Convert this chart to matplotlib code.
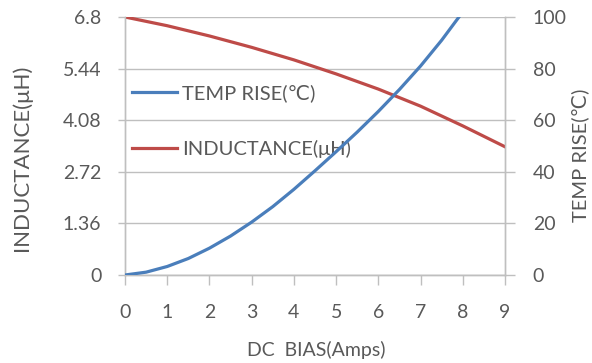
import matplotlib
matplotlib.use("Agg")
import matplotlib.pyplot as plt
from matplotlib.ticker import FixedLocator

# Data
bias_temp = [0, 0.5, 1, 1.5, 2, 2.5, 3, 3.5, 4, 4.5, 5, 5.5, 6, 6.5, 7, 7.5, 8]
temp_rise = [0, 1.1, 3.3, 6.4, 10.4, 15.1, 20.5, 26.5, 33.2, 40.4, 47.8, 55.4, 63.4, 71.9, 81.0, 91.0, 102.0]

bias_ind = [0, 1, 2, 3, 4, 5, 6, 7, 8, 9]
inductance = [6.8, 6.57, 6.3, 6.0, 5.67, 5.3, 4.9, 4.45, 3.93, 3.38]

x_ticks = [0, 1, 2, 3, 4, 5, 6, 7, 8, 9]
left_ticks = [0, 1.36, 2.72, 4.08, 5.44, 6.8]
left_labels = ["0", "1.36", "2.72", "4.08", "5.44", "6.8"]
right_ticks = [0, 20, 40, 60, 80, 100]

title = "INDUCTANCE CHART"
xlabel = "DC  BIAS(Amps)"
ylabel_left = "INDUCTANCE(μH)"
ylabel_right = "TEMP RISE(℃)"
legend_temp = "TEMP RISE(℃)"
legend_ind = "INDUCTANCE(μH)"

plt.rcParams['font.family'] = ['Lato', 'DejaVu Sans']
TXT = "#595959"
GRID = "#BFBFBF"
BLUE = "#4A7EBB"
RED = "#BE4B48"

W, H = 592, 363
fig = plt.figure(figsize=(W/100, H/100), dpi=100)
ax = fig.add_axes([125/W, 1-275/H, 380/W, 258/H])
ax2 = ax.twinx()

ax.set_xlim(0, 9)
ax.set_ylim(0, 6.8)
ax2.set_ylim(0, 100)

ax.yaxis.set_major_locator(FixedLocator(left_ticks))
ax.set_yticklabels(left_labels)
ax.xaxis.set_major_locator(FixedLocator(x_ticks))
ax2.yaxis.set_major_locator(FixedLocator(right_ticks))

ax.grid(axis='y', color=GRID, lw=1.0)
ax.set_axisbelow(True)

l_ind, = ax.plot(bias_ind, inductance, color=RED, lw=2.3, zorder=3)
l_temp, = ax2.plot(bias_temp, temp_rise, color=BLUE, lw=2.3, zorder=3)

for a in (ax, ax2):
    for s in a.spines.values():
        s.set_color(GRID)
        s.set_linewidth(1.0)
    a.spines['top'].set_visible(False)

ax.tick_params(axis='x', direction='out', length=7, width=1, color=GRID,
               labelsize=14, labelcolor=TXT, pad=14)
ax.tick_params(axis='y', direction='out', length=5, width=1, color=GRID,
               labelsize=14, labelcolor=TXT, pad=12)
ax2.tick_params(axis='y', direction='out', length=7, width=1, color=GRID,
                labelsize=14, labelcolor=TXT, pad=13)

# Axis titles at fixed positions
fig.text(316/W, 1-350/H, xlabel, ha='center', va='center', fontsize=14, color=TXT)
fig.text(22/W, 1-158/H, ylabel_left, ha='center', va='center', rotation=90,
         fontsize=16, color=TXT)
fig.text(580/W, 1-155/H, ylabel_right, ha='center', va='center', rotation=90,
         fontsize=14.5, color=TXT)

# Legend (inside plot, no frame)
ax.legend([l_temp, l_ind], [legend_temp, legend_ind], loc='center left',
          bbox_to_anchor=(0.0, 1-(121-17)/258), frameon=False, fontsize=14.5,
          labelcolor=TXT, handlelength=2.25, handletextpad=0.25,
          labelspacing=1.9, borderaxespad=0.35, borderpad=0.0)

fig.text(316/W, 1+7/H, title, ha='center', va='center', fontsize=16, color="#A6A6A6")

fig.savefig("out.png", dpi=100)
